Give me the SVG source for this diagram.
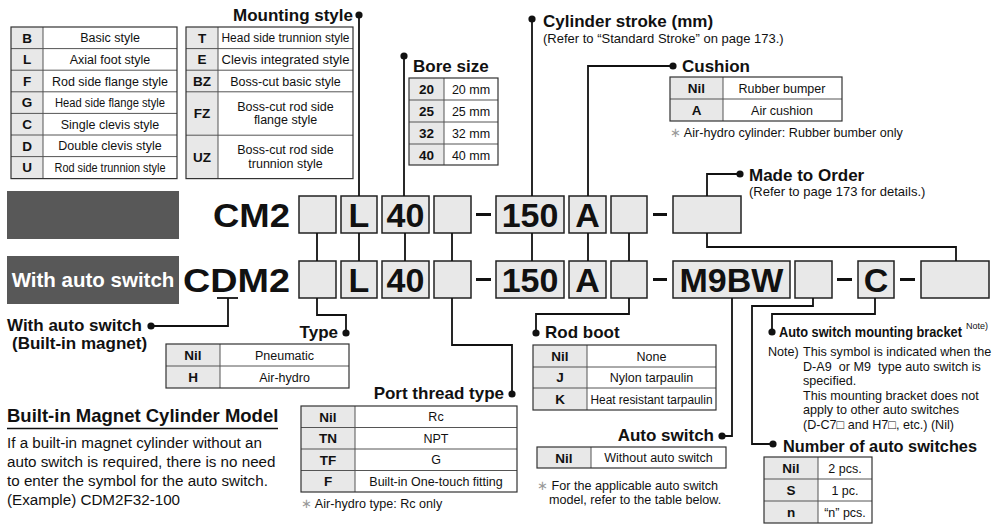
<svg xmlns="http://www.w3.org/2000/svg" width="1000" height="527" viewBox="0 0 1000 527">
<style>
text{font-family:"Liberation Sans",Arial,sans-serif;fill:#111}
.h{font-weight:bold;font-size:17px}
.sub{font-size:13px}
.c{font-weight:bold;font-size:13.5px;text-anchor:middle}
.v{font-size:12.5px;text-anchor:middle}
.big{font-weight:bold;font-size:34px;text-anchor:middle}
.code{fill:#e8e8e8}
.tb{fill:none;stroke:#333;stroke-width:1.2}
.tl{stroke:#555;stroke-width:1}
.box{fill:#e8e8e8;stroke:#222;stroke-width:1.5}
.dash{stroke:#111;stroke-width:3}
.con{fill:none;stroke:#111;stroke-width:1.8}
.note{font-size:12.6px}
.ast{fill:#999}
</style>
<defs>
<marker id="dotm" viewBox="0 0 8 8" refX="4" refY="4" markerWidth="8" markerHeight="8" markerUnits="userSpaceOnUse"><circle cx="4" cy="4" r="3.6" fill="#111"/></marker>
</defs>

<!-- Mounting style tables -->
<g id="mounting-style">
<text class="h" x="353" y="21" text-anchor="end">Mounting style</text>
<rect class="code" x="11" y="27" width="32" height="151.6"/>
<rect class="code" x="186" y="27" width="32" height="151.6"/>
<g class="tl">
<line x1="11" y1="48.6" x2="177" y2="48.6"/><line x1="11" y1="70.2" x2="177" y2="70.2"/><line x1="11" y1="91.8" x2="177" y2="91.8"/><line x1="11" y1="113.4" x2="177" y2="113.4"/><line x1="11" y1="135" x2="177" y2="135"/><line x1="11" y1="156.6" x2="177" y2="156.6"/>
<line x1="43" y1="27" x2="43" y2="178.6"/>
<line x1="186" y1="48.6" x2="353" y2="48.6"/><line x1="186" y1="70.2" x2="353" y2="70.2"/><line x1="186" y1="91.8" x2="353" y2="91.8"/><line x1="186" y1="135.2" x2="353" y2="135.2"/>
<line x1="218" y1="27" x2="218" y2="178.6"/>
</g>
<rect class="tb" x="11" y="27" width="166" height="151.6"/>
<rect class="tb" x="186" y="27" width="167" height="151.6"/>
<text class="c" x="27" y="42.5">B</text><text class="v" x="110" y="42.3">Basic style</text>
<text class="c" x="27" y="64.1">L</text><text class="v" x="110" y="63.9">Axial foot style</text>
<text class="c" x="27" y="85.7">F</text><text class="v" x="110" y="85.5">Rod side flange style</text>
<text class="c" x="27" y="107.3">G</text><text class="v" x="110" y="107.1" textLength="110" lengthAdjust="spacingAndGlyphs">Head side flange style</text>
<text class="c" x="27" y="128.9">C</text><text class="v" x="110" y="128.7">Single clevis style</text>
<text class="c" x="27" y="150.5">D</text><text class="v" x="110" y="150.3">Double clevis style</text>
<text class="c" x="27" y="172.1">U</text><text class="v" x="110" y="171.9" textLength="111" lengthAdjust="spacingAndGlyphs">Rod side trunnion style</text>
<text class="c" x="202" y="42.5">T</text><text class="v" x="285.5" y="42.3" textLength="128" lengthAdjust="spacingAndGlyphs">Head side trunnion style</text>
<text class="c" x="202" y="64.1">E</text><text class="v" x="285.5" y="63.9" textLength="128" lengthAdjust="spacingAndGlyphs">Clevis integrated style</text>
<text class="c" x="202" y="85.7">BZ</text><text class="v" x="285.5" y="85.5">Boss-cut basic style</text>
<text class="c" x="202" y="118">FZ</text><text class="v" x="285.5" y="110.5">Boss-cut rod side</text><text class="v" x="285.5" y="124">flange style</text>
<text class="c" x="202" y="161.5">UZ</text><text class="v" x="285.5" y="153.5">Boss-cut rod side</text><text class="v" x="285.5" y="167.5">trunnion style</text>
</g>

<!-- Bore size -->
<g id="bore-size">
<text class="h" x="413" y="72">Bore size</text>
<rect class="code" x="409" y="78" width="35" height="87"/>
<g class="tl"><line x1="409" y1="100" x2="498" y2="100"/><line x1="409" y1="122" x2="498" y2="122"/><line x1="409" y1="144" x2="498" y2="144"/><line x1="444" y1="78" x2="444" y2="165"/></g>
<rect class="tb" x="409" y="78" width="89" height="87"/>
<text class="c" x="426.5" y="94">20</text><text class="v" x="471" y="94">20 mm</text>
<text class="c" x="426.5" y="116">25</text><text class="v" x="471" y="116">25 mm</text>
<text class="c" x="426.5" y="138">32</text><text class="v" x="471" y="138">32 mm</text>
<text class="c" x="426.5" y="159.5">40</text><text class="v" x="471" y="159.5">40 mm</text>
</g>

<!-- Cylinder stroke -->
<g id="cylinder-stroke">
<text class="h" x="543" y="27">Cylinder stroke (mm)</text>
<text class="sub" x="543" y="43">(Refer to “Standard Stroke” on page 173.)</text>
</g>

<!-- Cushion -->
<g id="cushion">
<text class="h" x="682" y="71.5">Cushion</text>
<rect class="code" x="670" y="77" width="53" height="44"/>
<g class="tl"><line x1="670" y1="99" x2="842" y2="99"/><line x1="723" y1="77" x2="723" y2="121"/></g>
<rect class="tb" x="670" y="77" width="172" height="44"/>
<text class="c" x="696.5" y="93">Nil</text><text class="v" x="782" y="92.5">Rubber bumper</text>
<text class="c" x="696.5" y="115">A</text><text class="v" x="782" y="114.5">Air cushion</text>
<text class="note" x="670" y="137" font-size="12.5"><tspan class="ast">∗</tspan> Air-hydro cylinder: Rubber bumber only</text>
</g>

<!-- Made to order -->
<g id="made-to-order">
<text class="h" x="749" y="181">Made to Order</text>
<text class="sub" x="749" y="196">(Refer to page 173 for details.)</text>
</g>

<!-- Left dark labels -->
<g id="label-standard"><rect x="7" y="191" width="172" height="48" fill="#585858"/></g>
<g id="label-auto"><rect x="7" y="256" width="172" height="48" fill="#585858"/>
<text x="93" y="287" text-anchor="middle" font-weight="bold" font-size="20.5" style="fill:#fff">With auto switch</text></g>

<!-- Row 1 model code -->
<g id="row-cm2">
<text x="213" y="227" font-weight="bold" font-size="34" textLength="77" lengthAdjust="spacingAndGlyphs">CM2</text>
<rect class="box" x="299" y="196" width="37" height="37"/>
<rect class="box" x="341" y="196" width="36" height="37"/><text class="big" x="359" y="227">L</text>
<rect class="box" x="382" y="196" width="47" height="37"/><text class="big" x="405.5" y="227">40</text>
<rect class="box" x="434" y="196" width="37" height="37"/>
<line class="dash" x1="476" y1="214.5" x2="491" y2="214.5"/>
<rect class="box" x="496" y="196" width="68" height="37"/><text class="big" x="530" y="227">150</text>
<rect class="box" x="569" y="196" width="37" height="37"/><text class="big" x="587.5" y="227">A</text>
<rect class="box" x="611" y="196" width="36" height="37"/>
<line class="dash" x1="653" y1="214.5" x2="667" y2="214.5"/>
<rect class="box" x="673" y="196" width="68" height="37"/>
</g>

<!-- Row 2 model code -->
<g id="row-cdm2">
<text x="183" y="292" font-weight="bold" font-size="34" textLength="107" lengthAdjust="spacingAndGlyphs">CDM2</text>
<line x1="217" y1="298" x2="238" y2="298" stroke="#111" stroke-width="1.8"/>
<rect class="box" x="299" y="261" width="37" height="37"/>
<rect class="box" x="341" y="261" width="36" height="37"/><text class="big" x="359" y="292">L</text>
<rect class="box" x="382" y="261" width="47" height="37"/><text class="big" x="405.5" y="292">40</text>
<rect class="box" x="434" y="261" width="37" height="37"/>
<line class="dash" x1="476" y1="279.5" x2="491" y2="279.5"/>
<rect class="box" x="496" y="261" width="68" height="37"/><text class="big" x="530" y="292">150</text>
<rect class="box" x="569" y="261" width="37" height="37"/><text class="big" x="587.5" y="292">A</text>
<rect class="box" x="611" y="261" width="36" height="37"/>
<line class="dash" x1="653" y1="279.5" x2="667" y2="279.5"/>
<rect class="box" x="673" y="261" width="117" height="37"/><text class="big" x="731.5" y="292">M9BW</text>
<rect class="box" x="795" y="261" width="37" height="37"/>
<line class="dash" x1="837" y1="279.5" x2="852" y2="279.5"/>
<rect class="box" x="858" y="261" width="36" height="37"/><text class="big" x="876" y="292">C</text>
<line class="dash" x1="900" y1="279.5" x2="915" y2="279.5"/>
<rect class="box" x="921" y="261" width="68" height="37"/>
</g>

<!-- With auto switch (built-in magnet) -->
<g id="built-in-magnet-label">
<text class="h" x="7" y="331">With auto switch</text>
<text class="h" x="12" y="349">(Built-in magnet)</text>
</g>

<!-- Type -->
<g id="type">
<text class="h" x="338" y="338" text-anchor="end">Type</text>
<rect class="code" x="166" y="344" width="54" height="44"/>
<g class="tl"><line x1="166" y1="366" x2="349" y2="366"/><line x1="220" y1="344" x2="220" y2="388"/></g>
<rect class="tb" x="166" y="344" width="183" height="44"/>
<text class="c" x="193" y="360">Nil</text><text class="v" x="284.5" y="359.5">Pneumatic</text>
<text class="c" x="193" y="382">H</text><text class="v" x="284.5" y="381.5">Air-hydro</text>
</g>

<!-- Port thread type -->
<g id="port-thread-type">
<text class="h" x="504" y="399" text-anchor="end">Port thread type</text>
<rect class="code" x="301" y="406" width="54" height="86"/>
<g class="tl"><line x1="301" y1="427.5" x2="517" y2="427.5"/><line x1="301" y1="449" x2="517" y2="449"/><line x1="301" y1="470.5" x2="517" y2="470.5"/><line x1="355" y1="406" x2="355" y2="492"/></g>
<rect class="tb" x="301" y="406" width="216" height="86"/>
<text class="c" x="328" y="421.5">Nil</text><text class="v" x="436" y="421.3">Rc</text>
<text class="c" x="328" y="443">TN</text><text class="v" x="436" y="442.8">NPT</text>
<text class="c" x="328" y="464.5">TF</text><text class="v" x="436" y="464.3">G</text>
<text class="c" x="328" y="486">F</text><text class="v" x="436" y="485.8">Built-in One-touch fitting</text>
<text class="note" x="301" y="508" font-size="12.5"><tspan class="ast">∗</tspan> Air-hydro type: Rc only</text>
</g>

<!-- Built-in magnet cylinder model note -->
<g id="built-in-magnet-model">
<text x="7" y="422" font-weight="bold" font-size="18.5">Built-in Magnet Cylinder Model</text>
<line x1="7" y1="428.5" x2="278" y2="428.5" stroke="#111" stroke-width="1.5"/>
<text x="7" y="448" font-size="15.2">If a built-in magnet cylinder without an</text>
<text x="7" y="467" font-size="15.2">auto switch is required, there is no need</text>
<text x="7" y="486" font-size="15.2">to enter the symbol for the auto switch.</text>
<text x="7" y="505" font-size="15.2">(Example) CDM2F32-100</text>
</g>

<!-- Rod boot -->
<g id="rod-boot">
<text class="h" x="545" y="338">Rod boot</text>
<rect class="code" x="533" y="345" width="54" height="65"/>
<g class="tl"><line x1="533" y1="367" x2="716" y2="367"/><line x1="533" y1="388" x2="716" y2="388"/><line x1="587" y1="345" x2="587" y2="410"/></g>
<rect class="tb" x="533" y="345" width="183" height="65"/>
<text class="c" x="560" y="360.5">Nil</text><text class="v" x="651.5" y="360.5">None</text>
<text class="c" x="560" y="382">J</text><text class="v" x="651.5" y="382">Nylon tarpaulin</text>
<text class="c" x="560" y="403.5">K</text><text class="v" x="651.5" y="403.5" textLength="122" lengthAdjust="spacingAndGlyphs">Heat resistant tarpaulin</text>
</g>

<!-- Auto switch -->
<g id="auto-switch">
<text class="h" x="714" y="441" text-anchor="end">Auto switch</text>
<rect class="code" x="537" y="447" width="54" height="21"/>
<line class="tl" x1="591" y1="447" x2="591" y2="468"/>
<rect class="tb" x="537" y="447" width="189" height="21"/>
<text class="c" x="564" y="462.5">Nil</text><text class="v" x="658.5" y="462">Without auto switch</text>
<text class="note" x="537" y="490"><tspan class="ast">∗</tspan> For the applicable auto switch</text>
<text class="note" x="549" y="504">model, refer to the table below.</text>
</g>

<!-- Auto switch mounting bracket -->
<g id="mounting-bracket">
<text transform="translate(779,337) scale(0.824,1)" x="0" y="0" font-weight="bold" font-size="15.5">Auto switch mounting bracket</text>
<text x="966" y="329" font-size="9">Note)</text>
<text class="note" x="768" y="356">Note)</text>
<text class="note" x="803" y="356">This symbol is indicated when the</text>
<text class="note" x="803" y="370.5" style="white-space:pre">D-A9  or M9  type auto switch is</text>
<text class="note" x="803" y="385">specified.</text>
<text class="note" x="803" y="399.5">This mounting bracket does not</text>
<text class="note" x="803" y="414">apply to other auto switches</text>
<text class="note" x="803" y="428.5">(D-C7□ and H7□, etc.) (Nil)</text>
</g>

<!-- Number of auto switches -->
<g id="number-of-switches">
<text class="h" x="783" y="452" font-size="17.5" textLength="194" lengthAdjust="spacingAndGlyphs">Number of auto switches</text>
<rect class="code" x="764" y="457" width="54" height="66"/>
<g class="tl"><line x1="764" y1="479" x2="872" y2="479"/><line x1="764" y1="501" x2="872" y2="501"/><line x1="818" y1="457" x2="818" y2="523"/></g>
<rect class="tb" x="764" y="457" width="108" height="66"/>
<text class="c" x="791" y="472.5">Nil</text><text class="v" x="845" y="472.5">2 pcs.</text>
<text class="c" x="791" y="494.5">S</text><text class="v" x="845" y="494.5">1 pc.</text>
<text class="c" x="791" y="516.5">n</text><text class="v" x="845" y="516.5">“n” pcs.</text>
</g>

<!-- Connectors -->
<g id="connectors" class="con">
<polyline points="359,196 359,15" marker-end="url(#dotm)"/>
<polyline points="404,196 404,56" marker-end="url(#dotm)"/>
<polyline points="532,196 532,19" marker-end="url(#dotm)"/>
<polyline points="588,196 588,66 673,66" marker-end="url(#dotm)"/>
<polyline points="707,196 707,174 740,174" marker-end="url(#dotm)"/>
<polyline points="707,233 707,247 956,247 956,261"/>
<line x1="317" y1="233" x2="317" y2="261"/>
<line x1="359" y1="233" x2="359" y2="261"/>
<line x1="405" y1="233" x2="405" y2="261"/>
<line x1="452" y1="233" x2="452" y2="261"/>
<line x1="532" y1="233" x2="532" y2="261"/>
<line x1="588" y1="233" x2="588" y2="261"/>
<line x1="629" y1="233" x2="629" y2="261"/>
<polyline points="228,298 228,326 151,326" marker-end="url(#dotm)"/>
<polyline points="317,298 317,315 346,315 346,333" marker-end="url(#dotm)"/>
<polyline points="452,298 452,345 512,345 512,394" marker-end="url(#dotm)"/>
<polyline points="629,298 629,314 536,314 536,333" marker-end="url(#dotm)"/>
<polyline points="732,298 732,436 722,436" marker-end="url(#dotm)"/>
<polyline points="813,298 813,306 752,306 752,444 773,444" marker-end="url(#dotm)"/>
<polyline points="875,298 875,314 772,314 772,332" marker-end="url(#dotm)"/>
</g>
</svg>
